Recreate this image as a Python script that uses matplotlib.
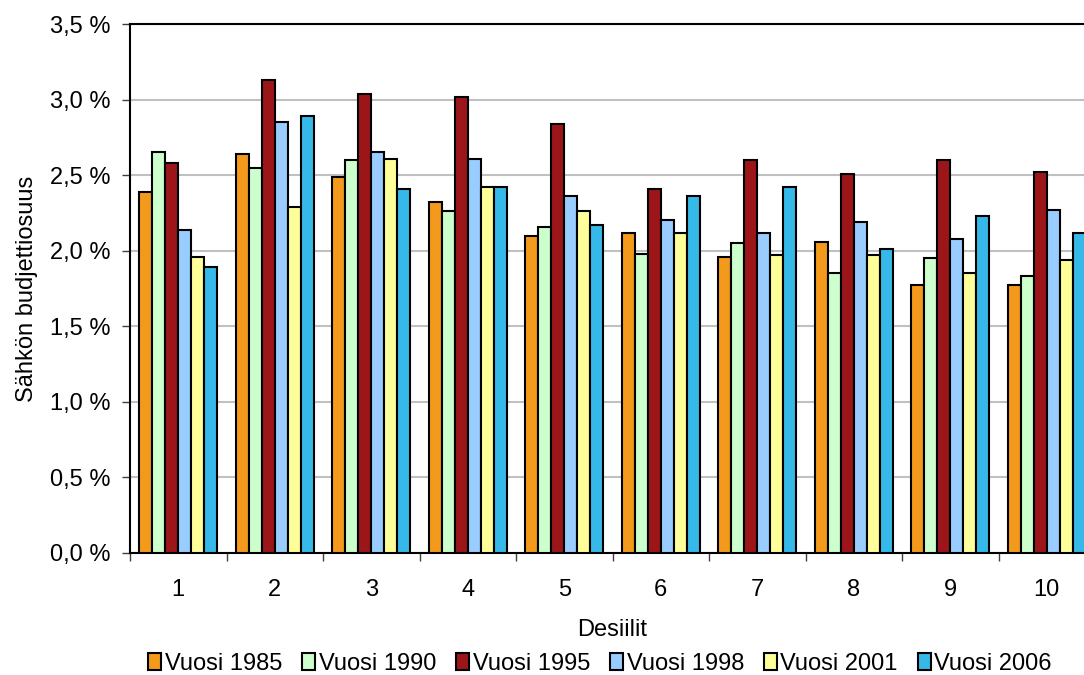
import numpy as np
import matplotlib.pyplot as plt
from matplotlib.ticker import FuncFormatter

plt.rcParams['font.family'] = ['Liberation Sans', 'DejaVu Sans']

deciles = ['1', '2', '3', '4', '5', '6', '7', '8', '9', '10']
years = ['Vuosi 1985', 'Vuosi 1990', 'Vuosi 1995', 'Vuosi 1998', 'Vuosi 2001', 'Vuosi 2006']
colors = ['#F39A1C', '#CCFFCC', '#9B1519', '#99CCFF', '#FFFF99', '#36B9E8']

# electricity share of household budget (%) per income decile
v1985 = [2.39, 2.64, 2.49, 2.32, 2.10, 2.12, 1.96, 2.06, 1.77, 1.77]
v1990 = [2.65, 2.55, 2.60, 2.26, 2.16, 1.98, 2.05, 1.85, 1.95, 1.83]
v1995 = [2.58, 3.13, 3.04, 3.02, 2.84, 2.41, 2.60, 2.51, 2.60, 2.52]
v1998 = [2.14, 2.85, 2.65, 2.61, 2.36, 2.20, 2.12, 2.19, 2.08, 2.27]
v2001 = [1.96, 2.29, 2.61, 2.42, 2.26, 2.12, 1.97, 1.97, 1.85, 1.94]
v2006 = [1.89, 2.89, 2.41, 2.42, 2.17, 2.36, 2.42, 2.01, 2.23, 2.12]
series = [v1985, v1990, v1995, v1998, v2001, v2006]

fs = 17

fig = plt.figure(figsize=(10.84, 6.75), dpi=100)
ax = fig.add_axes([130 / 1084, 122 / 675, 965 / 1084, 529 / 675])

x = np.arange(len(deciles))
w = 0.134
for i, (vals, lab, c) in enumerate(zip(series, years, colors)):
    ax.bar(x + (i - 2.5) * w, vals, w, color=c, edgecolor='black',
           linewidth=1.5, label=lab, zorder=3)

ax.set_xlim(-0.5, len(deciles) - 0.5)
ax.set_ylim(0, 3.5)
ax.set_yticks(np.arange(0, 3.51, 0.5))
ax.yaxis.set_major_formatter(FuncFormatter(lambda v, p: f'{v:.1f} %'.replace('.', ',')))
ax.grid(axis='y', color='#C0C0C0', linewidth=1.5, zorder=0)

# group boundaries get the tick marks, centers get the labels
ax.set_xticks(np.arange(-0.5, len(deciles), 1.0))
ax.set_xticklabels([])
ax.set_xticks(x, minor=True)
ax.set_xticklabels(deciles, minor=True)
ax.tick_params(axis='x', which='major', length=6, width=1, color='#404040')
ax.tick_params(axis='x', which='minor', length=0, pad=19, labelsize=fs)
ax.tick_params(axis='y', length=6, width=1, color='#404040', labelsize=fs, pad=8)

for s in ax.spines.values():
    s.set_linewidth(1.5)
    s.set_color('black')

ax.set_xlabel('Desiilit', fontsize=fs, labelpad=13)
ax.set_ylabel('Sähkön budjettiosuus', fontsize=fs, labelpad=9)

fig.legend(loc='center', bbox_to_anchor=(600 / 1084, 11 / 675), ncol=6,
           frameon=False, fontsize=fs, handlelength=0.55, handleheight=0.7,
           handletextpad=0.15, columnspacing=0.85, borderaxespad=0)

fig.savefig('out.png', dpi=100)
